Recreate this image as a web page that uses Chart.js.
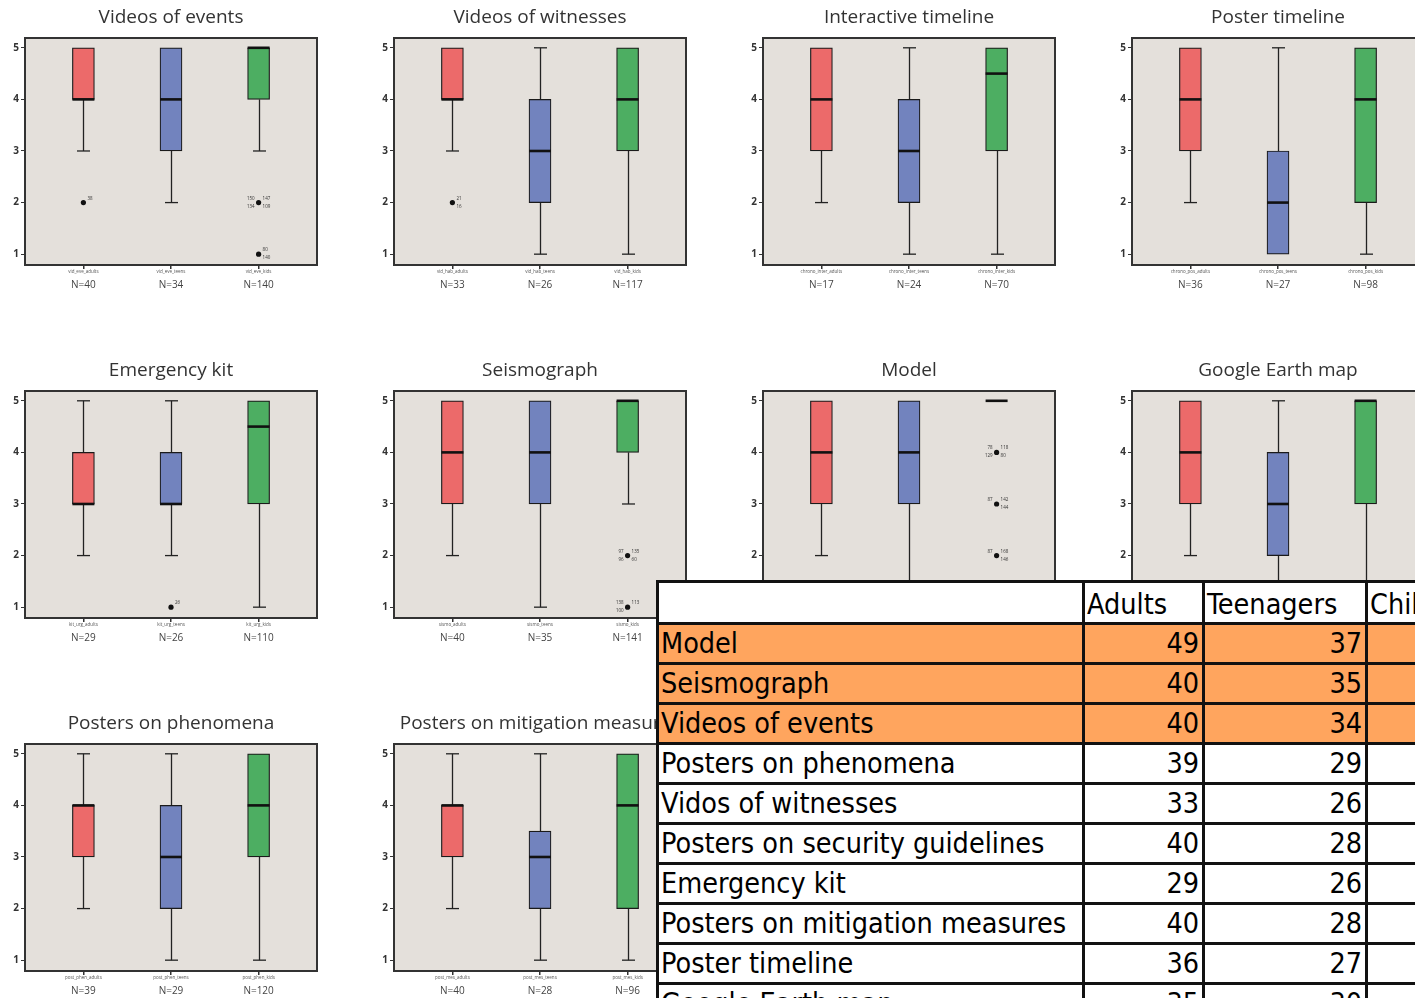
<!DOCTYPE html>
<html>
<head>
<meta charset="utf-8">
<script src="https://cdn.jsdelivr.net/npm/chart.js@4.4.1/dist/chart.umd.min.js"></script>
<style>
  html, body { margin: 0; padding: 0; background: #fff; }
  #page { position: relative; width: 1415px; height: 998px; overflow: hidden; background: #fff; }
  #page canvas { position: absolute; }
  #counts {
    position: absolute; left: 656px; top: 580px; width: 850px;
    border-collapse: collapse; table-layout: fixed;
    font-family: "DejaVu Sans Condensed", "DejaVu Sans", sans-serif;
    font-stretch: condensed;
    font-size: 28.5px; color: #000; background: #fff;
  }
  #counts td {
    border: 3px solid #111; height: 40px; padding: 0 3px 0 2px; box-sizing: border-box;
    vertical-align: middle; line-height: 34px; white-space: nowrap; overflow: hidden;
  }
  #counts tr.head td { height: 42px; vertical-align: bottom; }
  #counts td.num { text-align: right; }
  #counts tr.hi td { background: #FFA55E; }
</style>
</head>
<body>
<div id="page">
  <table id="counts">
    <colgroup><col style="width:426px"><col style="width:120px"><col style="width:163px"><col style="width:141px"></colgroup>
    <tbody id="countsBody"></tbody>
  </table>
</div>
<script>
// Ratings of each exhibit (1-5) by group: adults, teenagers, children
const panelTitles = ['Videos of events', 'Videos of witnesses', 'Interactive timeline', 'Poster timeline',
  'Emergency kit', 'Seismograph', 'Model', 'Google Earth map',
  'Posters on phenomena', 'Posters on mitigation measures'];

const whiskerLow  = [[3,2,3],[3,1,1],[2,1,1],[2,1,1],[2,2,1],[2,1,3],[2,1,5],[2,1,1],[2,1,1],[2,1,1]];
const quartile1   = [[4,3,4],[4,2,3],[3,2,3],[3,1,2],[3,3,3],[3,3,4],[3,3,5],[3,2,3],[3,2,3],[3,2,2]];
const medians     = [[4,4,5],[4,3,4],[4,3,4.5],[4,2,4],[3,3,4.5],[4,4,5],[4,4,5],[4,3,5],[4,3,4],[4,3,4]];
const quartile3   = [[5,5,5],[5,4,5],[5,4,5],[5,3,5],[4,4,5],[5,5,5],[5,5,5],[5,4,5],[4,4,5],[4,3.5,5]];
const whiskerHigh = [[5,5,5],[5,5,5],[5,5,5],[5,5,5],[5,5,5],[5,5,5],[5,5,5],[5,5,5],[5,5,5],[5,5,5]];

const groupCounts = [[40,34,140],[33,26,117],[17,24,70],[36,27,98],[29,26,110],[40,35,141],
  [null,null,null],[null,null,null],[39,29,120],[40,28,96]];

const variableNames = [
  ['vid_eve_adults','vid_eve_teens','vid_eve_kids'],
  ['vid_hab_adults','vid_hab_teens','vid_hab_kids'],
  ['chrono_inter_adults','chrono_inter_teens','chrono_inter_kids'],
  ['chrono_pos_adults','chrono_pos_teens','chrono_pos_kids'],
  ['kit_urg_adults','kit_urg_teens','kit_urg_kids'],
  ['sismo_adults','sismo_teens','sismo_kids'],
  ['maq_adults','maq_teens','maq_kids'],
  ['ge_adults','ge_teens','ge_kids'],
  ['post_phen_adults','post_phen_teens','post_phen_kids'],
  ['post_mes_adults','post_mes_teens','post_mes_kids']];

// outliers: group (1-3), rating, case numbers [upper-right, lower-right, upper-left, lower-left]
const outlierCases = [
  [{g:1,v:2,ids:['38']},{g:3,v:2,ids:['147','109','150','134']},{g:3,v:1,ids:['80','140']}],
  [{g:1,v:2,ids:['21','16']}],
  [],
  [],
  [{g:2,v:1,ids:['26']}],
  [{g:3,v:2,ids:['135','60','97','96']},{g:3,v:1,ids:['113','','138','100']}],
  [{g:3,v:4,ids:['118','80','78','129']},{g:3,v:3,ids:['142','144','87','']},{g:3,v:2,ids:['168','146','87','']}],
  [],
  [],
  []];

const ratingTicks = [1, 2, 3, 4, 5];

// Respondent counts table
const tableHeader = ['', 'Adults', 'Teenagers', 'Children'];
const tableItems = ['Model', 'Seismograph', 'Videos of events', 'Posters on phenomena', 'Vidos of witnesses',
  'Posters on security guidelines', 'Emergency kit', 'Posters on mitigation measures', 'Poster timeline', 'Google Earth map'];
const tableAdults = [49, 40, 40, 39, 33, 40, 29, 40, 36, 35];
const tableTeens  = [37, 35, 34, 29, 26, 28, 26, 28, 27, 30];
const highlightedRows = 3;

// ---- layout ----
const groupColors = ['#EC6A6A', '#7283BE', '#4DAE62'];
const colLeft = [25, 394, 763, 1132];
const rowTop = [38, 391, 744];
const uiFont = '"Open Sans", "Liberation Sans", sans-serif';

const boxPlugin = {
  id: 'boxParts',
  beforeDraw(chart) {
    const a = chart.chartArea, ctx = chart.ctx;
    ctx.save();
    ctx.fillStyle = '#E4E0DB';
    ctx.fillRect(a.left, a.top, a.right - a.left, a.bottom - a.top);
    ctx.restore();
  },
  beforeDatasetsDraw(chart) {
    const p = chart.options.plugins.boxParts.panel;
    const xs = chart.scales.x, ys = chart.scales.y, ctx = chart.ctx;
    ctx.save();
    ctx.strokeStyle = '#222';
    ctx.lineWidth = 1.3;
    for (let i = 0; i < 3; i++) {
      const x = Math.round(xs.getPixelForValue(i + 1)) + 0.5;
      const segs = [[whiskerLow[p][i], quartile1[p][i]], [quartile3[p][i], whiskerHigh[p][i]]];
      segs.forEach(([a, b]) => {
        if (a === b) return;
        ctx.beginPath();
        ctx.moveTo(x, ys.getPixelForValue(a));
        ctx.lineTo(x, ys.getPixelForValue(b));
        ctx.stroke();
      });
      [whiskerLow[p][i], whiskerHigh[p][i]].forEach((v, k) => {
        const q = k === 0 ? quartile1[p][i] : quartile3[p][i];
        if (v === q) return;
        const y = ys.getPixelForValue(v);
        ctx.beginPath();
        ctx.moveTo(x - 6.5, y);
        ctx.lineTo(x + 6.5, y);
        ctx.stroke();
      });
    }
    ctx.restore();
  },
  afterDatasetsDraw(chart) {
    const p = chart.options.plugins.boxParts.panel;
    const xs = chart.scales.x, ys = chart.scales.y, ctx = chart.ctx;
    ctx.save();
    ctx.strokeStyle = '#111';
    ctx.lineWidth = 2.6;
    for (let i = 0; i < 3; i++) {
      const x = xs.getPixelForValue(i + 1);
      const y = ys.getPixelForValue(medians[p][i]);
      ctx.beginPath();
      ctx.moveTo(x - 11, y);
      ctx.lineTo(x + 11, y);
      ctx.stroke();
    }
    // case numbers beside outliers
    ctx.fillStyle = '#333';
    ctx.font = '4.5px ' + uiFont;
    outlierCases[p].forEach(o => {
      const x = xs.getPixelForValue(o.g), y = ys.getPixelForValue(o.v);
      const spots = [[4, -3, 'left'], [4, 5, 'left'], [-4, -3, 'right'], [-4, 5, 'right']];
      o.ids.forEach((id, k) => {
        if (!id) return;
        ctx.textAlign = spots[k][2];
        ctx.fillText(id, x + spots[k][0], y + spots[k][1]);
      });
    });
    ctx.restore();
  },
  afterDraw(chart) {
    const p = chart.options.plugins.boxParts.panel;
    const a = chart.chartArea, xs = chart.scales.x, ctx = chart.ctx;
    ctx.save();
    ctx.strokeStyle = '#333';
    ctx.lineWidth = 2;
    ctx.strokeRect(a.left, a.top, a.right - a.left, a.bottom - a.top);
    // title
    ctx.fillStyle = '#333';
    ctx.textAlign = 'center';
    ctx.textBaseline = 'middle';
    ctx.font = '19px ' + uiFont;
    ctx.fillText(panelTitles[p], (a.left + a.right) / 2, a.top - 20);
    // variable names and group sizes
    for (let i = 0; i < 3; i++) {
      const x = xs.getPixelForValue(i + 1);
      ctx.fillStyle = '#555';
      ctx.font = '4.5px ' + uiFont;
      ctx.fillText(variableNames[p][i], x, a.bottom + 7);
      if (groupCounts[p][i] !== null) {
        ctx.fillStyle = '#444';
        ctx.font = '10px ' + uiFont;
        ctx.fillText('N=' + groupCounts[p][i], x, a.bottom + 20);
      }
    }
    ctx.restore();
  }
};

const page = document.getElementById('page');
panelTitles.forEach((title, p) => {
  const col = p % 4, row = Math.floor(p / 4);
  const cv = document.createElement('canvas');
  cv.width = 320; cv.height = 300;
  cv.style.left = (colLeft[col] - 24) + 'px';
  cv.style.top = (rowTop[row] - 38) + 'px';
  page.insertBefore(cv, page.firstChild);

  new Chart(cv, {
    type: 'bar',
    data: {
      datasets: [
        {
          type: 'bar',
          data: [0, 1, 2].map(i => ({ x: i + 1, y: [quartile1[p][i], quartile3[p][i]] })),
          backgroundColor: groupColors,
          borderColor: '#1a1a1a',
          borderWidth: 1.2,
          borderSkipped: false,
          barThickness: 22,
          grouped: false,
          order: 2
        },
        {
          type: 'scatter',
          data: outlierCases[p].map(o => ({ x: o.g, y: o.v })),
          pointRadius: 2.6,
          pointBackgroundColor: '#111',
          pointBorderWidth: 0,
          order: 1
        }
      ]
    },
    options: {
      responsive: false,
      animation: false,
      devicePixelRatio: 1,
      layout: { padding: { top: 38, right: 4, left: 0, bottom: 0 } },
      plugins: {
        legend: { display: false },
        tooltip: { enabled: false },
        title: { display: false },
        boxParts: { panel: p }
      },
      scales: {
        x: {
          type: 'linear', min: 1 / 3, max: 11 / 3, offset: false,
          afterBuildTicks: s => { s.ticks = [1, 2, 3].map(v => ({ value: v })); },
          afterFit: s => { s.height = 35; },
          grid: { drawOnChartArea: false, drawTicks: true, tickLength: 4, color: '#333', lineWidth: 1.5, offset: false },
          border: { display: false },
          ticks: { callback: () => '', padding: 0 }
        },
        y: {
          min: 0.79, max: 5.19,
          afterBuildTicks: s => { s.ticks = ratingTicks.map(v => ({ value: v })); },
          afterFit: s => { s.width = 24; },
          grid: { drawOnChartArea: false, drawTicks: true, tickLength: 4, color: '#333', lineWidth: 1 },
          border: { display: false },
          ticks: { color: '#333', padding: 2, font: { size: 10, family: uiFont, weight: 'bold' } }
        }
      }
    },
    plugins: [boxPlugin]
  });
});

// counts table
const body = document.getElementById('countsBody');
const head = document.createElement('tr');
head.className = 'head';
tableHeader.forEach(h => { const td = document.createElement('td'); td.textContent = h; head.appendChild(td); });
body.appendChild(head);
tableItems.forEach((name, r) => {
  const tr = document.createElement('tr');
  if (r < highlightedRows) tr.className = 'hi';
  [name, tableAdults[r], tableTeens[r], ''].forEach((v, c) => {
    const td = document.createElement('td');
    td.textContent = v;
    if (c > 0) td.className = 'num';
    tr.appendChild(td);
  });
  body.appendChild(tr);
});
</script>
</body>
</html>
